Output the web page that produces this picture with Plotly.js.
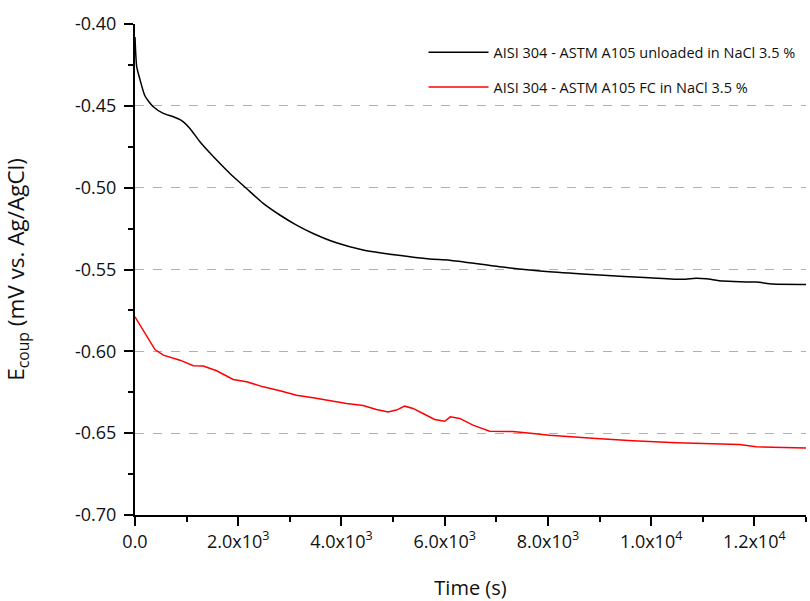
<!DOCTYPE html>
<html>
<head>
<meta charset="utf-8">
<script src="https://cdn.plot.ly/plotly-3.0.1.min.js"></script>
<style>html,body{margin:0;padding:0;background:#fff;}#chart{width:810px;height:601px;}</style>
</head>
<body>
<div id="chart"></div>
<script>
// Unloaded couple (black)
const timeUnloaded = [0, 33, 97, 194, 354, 548, 742, 903, 1064, 1258, 1516, 1839, 2161, 2484, 2806, 3129, 3451, 3903, 4419, 5064, 5709, 6096, 7064, 8032, 9000, 9967, 10612, 10870, 11064, 11387, 12032, 12354, 13000];
const ecoupUnloaded = [-0.408, -0.426, -0.434, -0.444, -0.4506, -0.4546, -0.4567, -0.459, -0.4638, -0.472, -0.481, -0.4913, -0.5005, -0.5096, -0.5167, -0.5229, -0.528, -0.5337, -0.5381, -0.5412, -0.5436, -0.5443, -0.5483, -0.5514, -0.5534, -0.555, -0.556, -0.5554, -0.5557, -0.5571, -0.5577, -0.5589, -0.5591];

// Fretting-corrosion couple (red)
const timeFC = [0, 194, 387, 548, 871, 1129, 1322, 1581, 1903, 2161, 2484, 2806, 3129, 3451, 3774, 4097, 4419, 4677, 4903, 5064, 5225, 5387, 5580, 5806, 6000, 6110, 6290, 6548, 6871, 7322, 7709, 8032, 8935, 9645, 10484, 11709, 12032, 12741, 13000];
const ecoupFC = [-0.5789, -0.589, -0.5989, -0.6023, -0.6054, -0.6088, -0.609, -0.6119, -0.6172, -0.6186, -0.6217, -0.6241, -0.6268, -0.6284, -0.6302, -0.6319, -0.6331, -0.6355, -0.637, -0.6359, -0.6335, -0.6349, -0.638, -0.6416, -0.6427, -0.64, -0.641, -0.6451, -0.6488, -0.649, -0.6502, -0.6512, -0.6532, -0.6547, -0.6559, -0.6569, -0.6583, -0.659, -0.659];

const seriesNames = ["AISI 304 - ASTM A105 unloaded in NaCl 3.5 %", "AISI 304 - ASTM A105 FC in NaCl 3.5 %"];

const xTickVals = [0, 2000, 4000, 6000, 8000, 10000, 12000];
const xTickText = ["0.0", "2.0x10<sup>3</sup>", "4.0x10<sup>3</sup>", "6.0x10<sup>3</sup>", "8.0x10<sup>3</sup>", "1.0x10<sup>4</sup>", "1.2x10<sup>4</sup>"];
const yTickVals = [-0.70, -0.65, -0.60, -0.55, -0.50, -0.45, -0.40];
const yTickText = ["-0.70", "-0.65", "-0.60", "-0.55", "-0.50", "-0.45", "-0.40"];

const font = "Open Sans, DejaVu Sans, sans-serif";

const traces = [
  {x: timeUnloaded, y: ecoupUnloaded, name: seriesNames[0], mode: "lines", line: {color: "#000000", width: 1.5, shape: "spline", smoothing: 0.6}, legendgroup: "a"},
  {x: timeFC, y: ecoupFC, name: seriesNames[1], mode: "lines", line: {color: "#ff0000", width: 1.5}, legendgroup: "b"}
];

const layout = {
  width: 810, height: 601,
  margin: {l: 135, r: 4, t: 24, b: 86},
  paper_bgcolor: "#ffffff", plot_bgcolor: "#ffffff",
  font: {family: font, color: "#111", size: 18},
  showlegend: true,
  legend: {x: 0.43, y: 0.975, xanchor: "left", yanchor: "top", bgcolor: "rgba(0,0,0,0)", font: {size: 14.5, family: font, color: "#111"}, traceorder: "grouped", tracegroupgap: 13, itemwidth: 60},
  xaxis: {
    range: [0, 13000], tickvals: xTickVals, ticktext: xTickText,
    ticks: "outside", ticklen: 9, tickwidth: 2, tickcolor: "#000",
    showline: true, linecolor: "#000", linewidth: 2, mirror: false,
    showgrid: false, zeroline: false,
    minor: {dtick: 1000, ticks: "outside", ticklen: 5, tickwidth: 2, tickcolor: "#000", showgrid: false},
    tickfont: {size: 18, family: font, color: "#111"},
    title: {text: "Time (s)", font: {size: 20, family: font, color: "#111"}, standoff: 37}
  },
  yaxis: {
    range: [-0.70, -0.40], tickvals: yTickVals, ticktext: yTickText,
    ticks: "outside", ticklen: 9, tickwidth: 2, tickcolor: "#000", ticklabelstandoff: 4,
    showline: true, linecolor: "#000", linewidth: 2, mirror: false,
    showgrid: true, gridcolor: "#b0b0b0", griddash: "dash", gridwidth: 1, zeroline: false,
    minor: {dtick: 0.025, tick0: -0.7, ticks: "outside", ticklen: 5, tickwidth: 2, tickcolor: "#000", showgrid: false},
    tickfont: {size: 18, family: font, color: "#111"},
    title: {text: "E<sub>coup</sub> (mV vs. Ag/AgCl)", font: {size: 22.5, family: font, color: "#111"}, standoff: 44}
  }
};

Plotly.newPlot("chart", traces, layout, {displayModeBar: false, staticPlot: true});
</script>
</body>
</html>
